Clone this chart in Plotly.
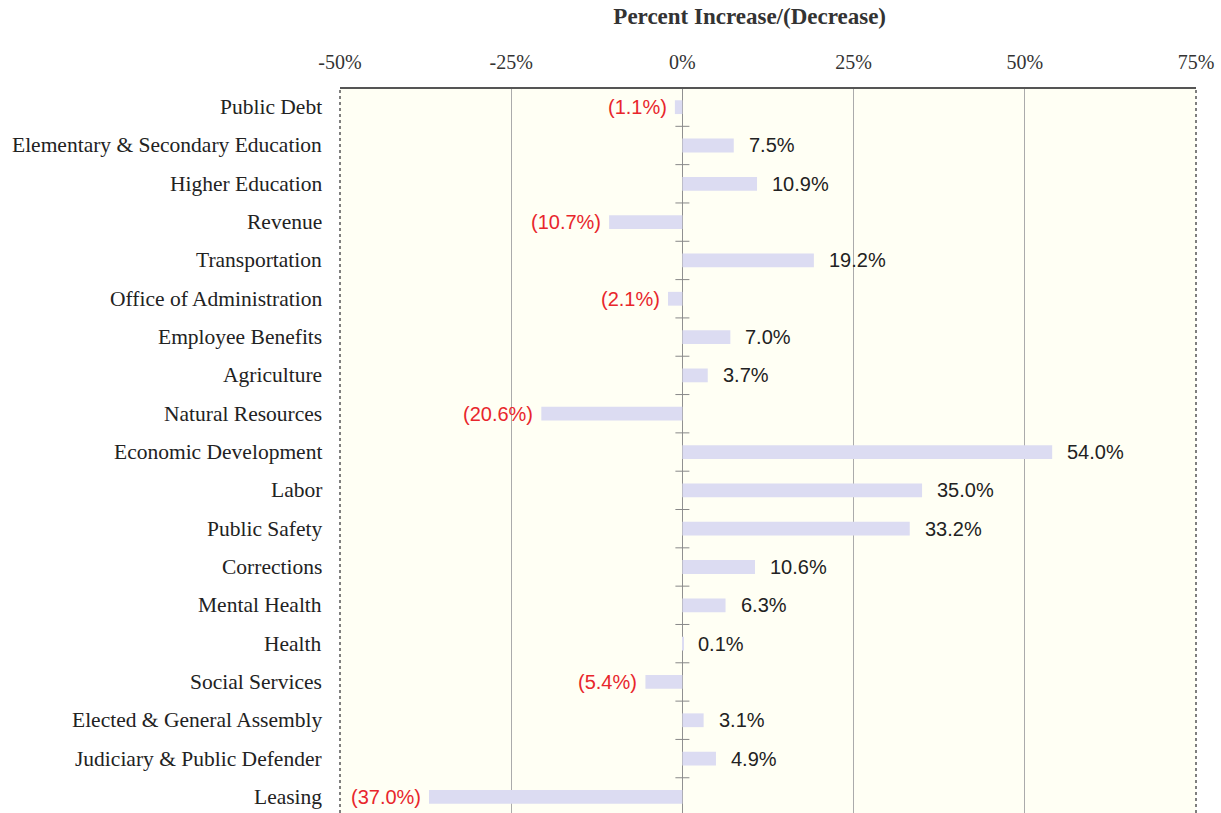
import plotly.graph_objects as go

categories = ["Public Debt", "Elementary & Secondary Education", "Higher Education", "Revenue",
              "Transportation", "Office of Administration", "Employee Benefits", "Agriculture",
              "Natural Resources", "Economic Development", "Labor", "Public Safety", "Corrections",
              "Mental Health", "Health", "Social Services", "Elected & General Assembly",
              "Judiciary & Public Defender", "Leasing"]
values = [-1.1, 7.5, 10.9, -10.7, 19.2, -2.1, 7.0, 3.7, -20.6, 54.0, 35.0, 33.2, 10.6,
          6.3, 0.1, -5.4, 3.1, 4.9, -37.0]
tick_vals = [-50, -25, 0, 25, 50, 75]
tick_text = ["-50%", "-25%", "0%", "25%", "50%", "75%"]

def fmt(v):
    return f"({abs(v):.1f}%)" if v < 0 else f"{v:.1f}%"

idx = list(range(len(categories)))

fig = go.Figure()
fig.add_trace(go.Bar(
    x=values, y=idx, orientation="h", width=0.36,
    marker=dict(color="#DCDCF2", line=dict(width=0)),
    hoverinfo="skip", showlegend=False))

# small tick marks on the zero axis at category boundaries
fig.add_trace(go.Scatter(
    x=[0] * (len(categories) - 1), y=[i + 0.5 for i in idx[:-1]],
    mode="markers", marker=dict(symbol="line-ew", size=10, line=dict(color="#888888", width=1)),
    hoverinfo="skip", showlegend=False))

for i, v in enumerate(values):
    neg = v < 0
    fig.add_annotation(
        x=v, y=i, text=fmt(v), showarrow=False,
        xanchor="right" if neg else "left",
        xshift=-6 if neg else 13,
        font=dict(family="Liberation Sans, Arial", size=20,
                  color="#E8262C" if neg else "#222222"))

# left category labels
for i, c in enumerate(categories):
    fig.add_annotation(
        x=0, xref="paper", y=i, text=c, showarrow=False,
        xanchor="right", xshift=-16,
        font=dict(family="Liberation Serif, Times New Roman", size=21.5, color="#222222"))

fig.update_layout(
    width=1221, height=813,
    margin=dict(l=340, r=25, t=88, b=0),
    paper_bgcolor="white", plot_bgcolor="#FFFFF4",
    bargap=0.6,
    title=dict(text="<b>Percent Increase/(Decrease)</b>", x=0.614, xanchor="center",
               y=0.99, yanchor="top",
               font=dict(family="Liberation Serif, Times New Roman", size=23, color="#333333")),
    xaxis=dict(range=[-50, 75], side="top", tickvals=tick_vals, ticktext=tick_text,
               showgrid=True, gridcolor="#ABABAB", gridwidth=1, zeroline=True,
               zerolinecolor="#909090", zerolinewidth=1,
               tickfont=dict(family="Liberation Serif, Times New Roman", size=20, color="#333333"),
               ticks="", ticklabelstandoff=14, showline=False, fixedrange=True),
    yaxis=dict(range=[18.42, -0.5], showticklabels=False, showgrid=False, zeroline=False,
               ticks="", showline=False, fixedrange=True),
    shapes=[
        dict(type="line", xref="paper", yref="paper", x0=0, x1=1, y0=1, y1=1,
             line=dict(color="#555555", width=2)),
        dict(type="line", xref="paper", yref="paper", x0=0, x1=0, y0=0, y1=1,
             line=dict(color="#555555", width=1.5, dash="dot")),
        dict(type="line", xref="paper", yref="paper", x0=1, x1=1, y0=0, y1=1,
             line=dict(color="#555555", width=1.5, dash="dot")),
    ],
)

fig.write_html("out.html")
